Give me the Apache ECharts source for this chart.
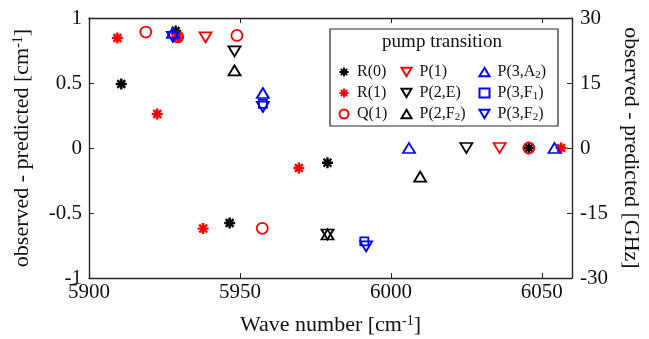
<!DOCTYPE html>
<html>
<head>
<meta charset="utf-8">
<script src="https://cdn.jsdelivr.net/npm/echarts@6/dist/echarts.min.js"></script>
<style>
html, body {margin: 0; padding: 0; background: #fff;}
#main {width: 649px; height: 339px;}
</style>
</head>
<body>
<div id="main"></div>
<script>
// wave number [cm-1], observed - predicted [cm-1]
var r0 = [[5910.7, 0.492], [5928.7, 0.90], [5946.6, -0.577], [5979.0, -0.113], [6045.7, 0]]
var r1 = [[5909.4, 0.846], [5922.6, 0.262], [5929.4, 0.85], [5937.8, -0.62], [5969.5, -0.154], [6056.4, 0]]
var q1 = [[5918.8, 0.892], [5929.4, 0.855], [5949.0, 0.866], [5957.4, -0.618], [6045.7, 0]]
var p1 = [[5938.6, 0.851], [6036.0, 0]]
var p2e = [[5948.2, 0.743], [5979.0, -0.665], [6025.0, 0]]
var p2f2 = [[5948.2, 0.597], [5979.0, -0.665], [6009.7, -0.22]]
var p3a2 = [[5927.8, 0.885], [5957.6, 0.423], [6006.0, 0], [6054.2, 0]]
var p3f1 = [[5957.6, 0.34], [5991.2, -0.718]]
var p3f2 = [[5927.8, 0.855], [5957.6, 0.317], [5991.8, -0.757]]

var names = ['R(0)', 'R(1)', 'Q(1)', 'P(1)', 'P(2,E)', 'P(2,F2)', 'P(3,A2)', 'P(3,F1)', 'P(3,F2)']

var font = '"Liberation Serif", "DejaVu Serif", serif'
var axisCol = '#262626'

var star = 'path://M-5,-1.1L5,-1.1L5,1.1L-5,1.1Z M-1.1,-5L1.1,-5L1.1,5L-1.1,5Z ' +
    'M-2.8,-4.3L4.3,2.8L2.8,4.3L-4.3,-2.8Z M2.8,-4.3L4.3,-2.8L-2.8,4.3L-4.3,2.8Z'
var triUp = 'path://M0,0L6,10L-6,10Z'
var triDown = 'path://M0,10L-6,0L6,0Z'

function filled(name, data, sym, col) {
    return {
        name: name, type: 'scatter', data: data,
        symbol: sym, symbolSize: 11,
        itemStyle: {color: col, opacity: 1}
    }
}
function hollow(name, data, sym, col, size) {
    return {
        name: name, type: 'scatter', data: data,
        symbol: sym, symbolSize: size,
        itemStyle: {color: 'none', borderColor: col, borderWidth: 1.8, opacity: 1}
    }
}

function subFmt(name) {
    return name.replace(/([AF])(\d)\)/, '$1{sub|$2})')
}

var legendText = {
    fontFamily: font, fontSize: 16, color: '#111', lineHeight: 18,
    padding: [0, 0, 0, 3],
    rich: {sub: {fontFamily: font, fontSize: 11, color: '#111', verticalAlign: 'bottom', lineHeight: 14}}
}
function leg(left, data) {
    return {
        orient: 'vertical', left: left, top: 58, z: 10,
        itemWidth: 10, itemHeight: 9, itemGap: 3,
        data: data, formatter: subFmt, textStyle: legendText
    }
}

var axisName = {
    fontFamily: font, fontSize: 22, color: '#111',
    rich: {sup: {fontFamily: font, fontSize: 14, color: '#111', verticalAlign: 'top'}}
}
var tickLabel = {fontFamily: font, fontSize: 21, color: '#111'}

var myChart = echarts.init(document.getElementById('main'))

myChart.setOption(option = {
    animation: false,
    backgroundColor: '#fff',
    grid: {left: 89, right: 77, top: 18, bottom: 61, outerBoundsMode: 'none', containLabel: false},
    legend: [
        leg(332, names.slice(0, 3)),
        leg(394, names.slice(3, 6)),
        leg(472, names.slice(6, 9))
    ],
    graphic: [{
        type: 'rect', z: 5,
        shape: {x: 330, y: 29, width: 228, height: 97},
        style: {fill: '#fff', stroke: axisCol, lineWidth: 1.2}
    }, {
        type: 'text', z: 6, x: 442, y: 42,
        style: {text: 'pump transition', font: '19px ' + font, fill: '#111', align: 'center', verticalAlign: 'middle'}
    }],
    xAxis: [{
        type: 'value', min: 5900, max: 6060, interval: 50,
        name: 'Wave number [cm{sup|-1}]', nameLocation: 'middle', nameGap: 36,
        nameTextStyle: axisName,
        axisLine: {onZero: false, lineStyle: {color: axisCol, width: 1.4}},
        axisTick: {inside: true, length: 5, lineStyle: {color: axisCol}},
        axisLabel: Object.assign({margin: 4, showMaxLabel: false, formatter: function (v) { return String(v) }}, tickLabel),
        splitLine: {show: false}
    }, {
        type: 'value', position: 'top', min: 5900, max: 6060, interval: 50,
        axisLine: {show: true, onZero: false, lineStyle: {color: axisCol, width: 1.4}},
        axisTick: {inside: true, length: 5, lineStyle: {color: axisCol}},
        axisLabel: {show: false},
        splitLine: {show: false}
    }],
    yAxis: [{
        type: 'value', min: -1, max: 1, interval: 0.5,
        name: 'observed - predicted [cm{sup|-1}]', nameLocation: 'middle', nameGap: 56,
        nameTextStyle: axisName,
        axisLine: {show: true, onZero: false, lineStyle: {color: axisCol, width: 1.4}},
        axisTick: {inside: true, length: 5, lineStyle: {color: axisCol}},
        axisLabel: Object.assign({margin: 7}, tickLabel),
        splitLine: {show: false}
    }, {
        type: 'value', position: 'right', min: -30, max: 30, interval: 15,
        name: 'observed - predicted [GHz]', nameLocation: 'middle', nameGap: 48, nameRotate: -90,
        nameTextStyle: axisName,
        axisLine: {show: true, onZero: false, lineStyle: {color: axisCol, width: 1.4}},
        axisTick: {inside: true, length: 5, lineStyle: {color: axisCol}},
        axisLabel: Object.assign({margin: 8}, tickLabel),
        splitLine: {show: false}
    }],
    series: [
        filled('R(0)', r0, star, '#000'),
        filled('R(1)', r1, star, '#ff0000'),
        hollow('Q(1)', q1, 'circle', '#ff0000', 11),
        hollow('P(1)', p1, triDown, '#ff0000', [12, 10]),
        hollow('P(2,E)', p2e, triDown, '#000', [12, 10]),
        hollow('P(2,F2)', p2f2, triUp, '#000', [12, 10]),
        hollow('P(3,A2)', p3a2, triUp, '#0000ff', [12, 10]),
        hollow('P(3,F1)', p3f1, 'rect', '#0000ff', 8),
        hollow('P(3,F2)', p3f2, triDown, '#0000ff', [12, 10])
    ]
})
</script>
</body>
</html>
